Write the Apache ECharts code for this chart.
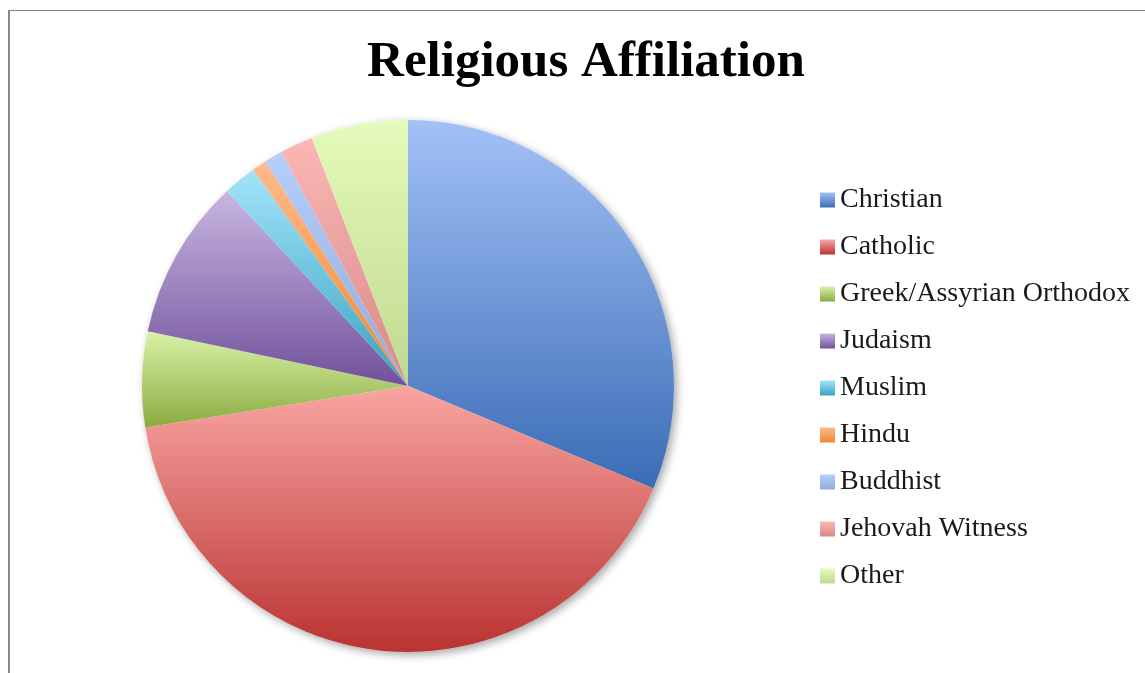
<!DOCTYPE html>
<html>
<head>
<meta charset="utf-8">
<script src="https://cdn.jsdelivr.net/npm/echarts@6/dist/echarts.min.js"></script>
<style>
  html, body { margin: 0; padding: 0; background: #fff; }
  .frame {
    position: absolute;
    left: 8px;
    top: 10px;
    width: 1200px;
    height: 700px;
    border-top: 1px solid #888;
    border-left: 2px solid #888;
  }
  #chart { position: absolute; left: 0; top: 0; width: 1145px; height: 673px; }
</style>
</head>
<body>
<div class="frame"></div>
<div id="chart"></div>
<script>
const categories = [
  'Christian', 'Catholic', 'Greek/Assyrian Orthodox', 'Judaism', 'Muslim',
  'Hindu', 'Buddhist', 'Jehovah Witness', 'Other'
];
const values = [31.3, 41.2, 5.8, 9.8, 2.0, 0.9, 1.1, 2.0, 5.9];
// light (top) / dark (bottom) gradient stops
const topColors = ['#a3c1f7', '#f9a5a2', '#d9f2a8', '#c8b6e1', '#a2e4fa', '#fdbb8c', '#b5cefb', '#fbb7b5', '#e4fbbb'];
const bottomColors = ['#3a6cb5', '#b93331', '#8aab40', '#71519b', '#3aa2c1', '#f28630', '#93abd8', '#d88987', '#c0d88e'];

function grad(i) {
  return new echarts.graphic.LinearGradient(0, 0, 0, 1, [
    { offset: 0, color: topColors[i] },
    { offset: 1, color: bottomColors[i] }
  ]);
}

const chart = echarts.init(document.getElementById('chart'));

chart.setOption({
  animation: false,
  title: {
    text: 'Religious Affiliation',
    left: 581,
    top: 32,
    textAlign: 'center',
    textStyle: {
      fontFamily: 'Liberation Serif',
      fontWeight: 'bold',
      fontSize: 51,
      color: '#000'
    }
  },
  legend: {
    orient: 'vertical',
    left: 815,
    top: 181,
    itemWidth: 15,
    itemHeight: 15,
    itemGap: 19,
    icon: 'rect',
    data: categories,
    textStyle: {
      fontFamily: 'Liberation Serif',
      fontSize: 28,
      color: '#1a1a1a'
    }
  },
  series: [
    {
      // soft drop shadow under the pie
      type: 'pie',
      silent: true,
      center: [408, 386],
      radius: 266,
      z: 1,
      label: { show: false },
      labelLine: { show: false },
      legendHoverLink: false,
      data: [{
        value: 1,
        name: '',
        itemStyle: {
          color: '#fff',
          shadowBlur: 8,
          shadowOffsetX: 3,
          shadowOffsetY: 3,
          shadowColor: 'rgba(0,0,0,0.35)'
        }
      }]
    },
    {
      type: 'pie',
      center: [408, 386],
      radius: 266,
      startAngle: 90,
      clockwise: true,
      z: 2,
      label: { show: false },
      labelLine: { show: false },
      itemStyle: { borderWidth: 0 },
      data: categories.map((name, i) => ({
        name: name,
        value: values[i],
        itemStyle: { color: grad(i) }
      }))
    }
  ]
});
</script>
</body>
</html>
